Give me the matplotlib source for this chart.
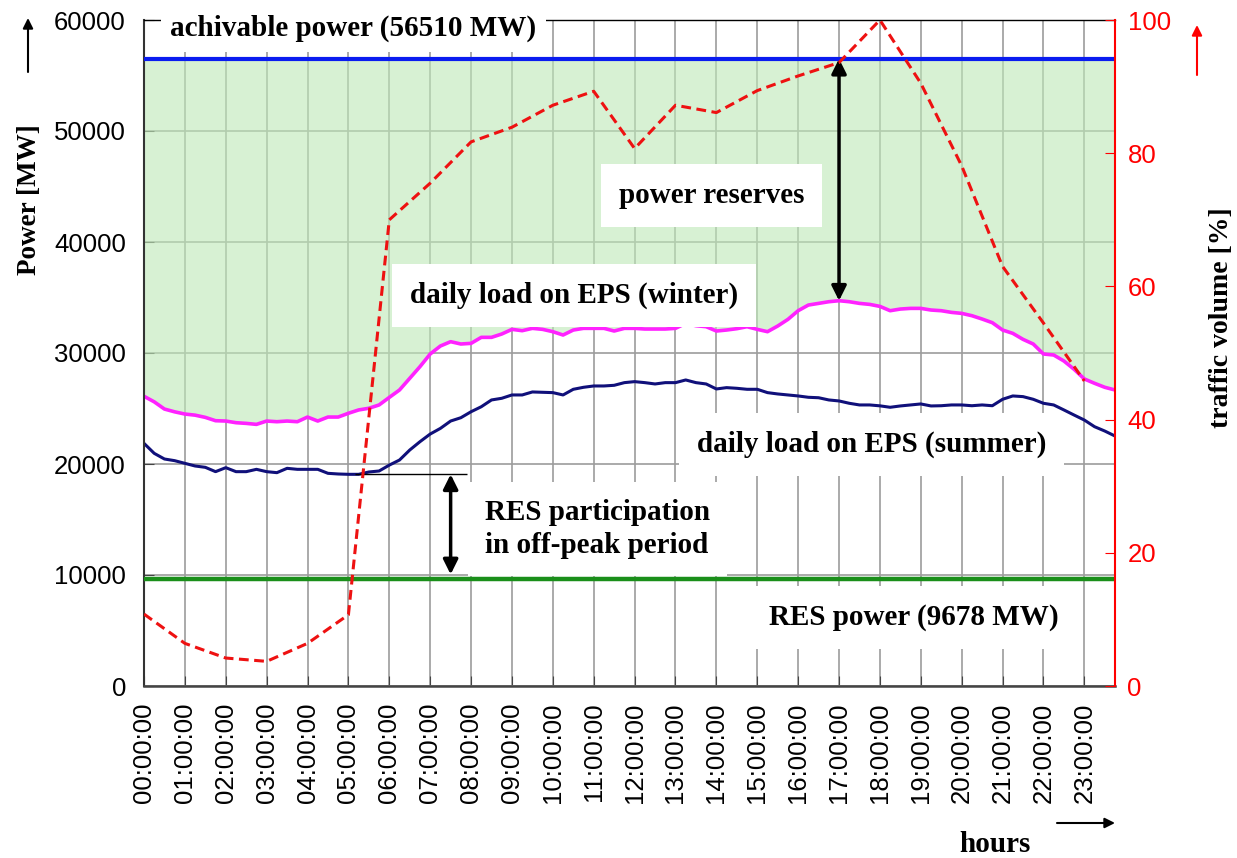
import numpy as np
import matplotlib.pyplot as plt
from matplotlib.patches import FancyArrowPatch

# load curves, 15 min steps (MW)
winter = [26100, 25600, 24950, 24700, 24500, 24400, 24200, 23900,
          23870, 23720, 23660, 23570, 23870, 23810, 23870, 23810,
          24230, 23870, 24230, 24230, 24570, 24870, 25020, 25320,
          26000, 26670, 27720, 28770, 29910, 30630, 31020, 30810,
          30870, 31410, 31410, 31710, 32130, 32010, 32220, 32130,
          31920, 31620, 32070, 32220, 32220, 32220, 31980, 32220,
          32220, 32160, 32160, 32160, 32220, 32670, 32460, 32370,
          31980, 32070, 32190, 32370, 32130, 31920, 32430, 33030,
          33810, 34320, 34470, 34620, 34710, 34620, 34470, 34380,
          34200, 33810, 33960, 34020, 34020, 33870, 33810, 33660,
          33570, 33360, 33060, 32730, 32070, 31770, 31230, 30810,
          29910, 29820, 29280, 28530, 27660, 27270, 26910, 26670]
summer = [21860, 20960, 20450, 20300, 20060, 19820, 19700, 19310,
          19670, 19310, 19310, 19520, 19310, 19220, 19610, 19520,
          19520, 19520, 19160, 19100, 19070, 19070, 19280, 19370,
          19900, 20360, 21260, 22010, 22700, 23210, 23870, 24170,
          24710, 25160, 25770, 25920, 26220, 26220, 26490, 26460,
          26430, 26220, 26730, 26910, 27030, 27030, 27090, 27330,
          27420, 27330, 27210, 27330, 27330, 27570, 27330, 27210,
          26760, 26880, 26820, 26730, 26730, 26430, 26310, 26220,
          26130, 26010, 25970, 25770, 25680, 25470, 25320, 25320,
          25240, 25110, 25230, 25320, 25410, 25230, 25250, 25320,
          25320, 25250, 25320, 25250, 25830, 26130, 26070, 25830,
          25470, 25320, 24870, 24410, 23960, 23360, 22970, 22520]
t = np.arange(len(winter)) / 4.0

# traffic volume, hourly (%)
traffic_hours = np.arange(24)
traffic = [10.8, 6.4, 4.2, 3.7, 6.4, 10.7, 70.0, 75.5, 81.7, 83.9, 87.2, 89.3,
           80.7, 87.2, 86.1, 89.4, 91.6, 93.6, 100.0, 90.5, 78.1, 63.0, 54.5, 45.8]

achievable = 56510
res_power = 9678
hour_labels = ['%02d:00:00' % h for h in range(24)]

SANS = 'Liberation Sans'
SERIF = 'Liberation Serif'
W, H = 1237, 858

fig = plt.figure(figsize=(W / 100, H / 100), dpi=100)
ax = fig.add_axes([144 / W, 1 - 686 / H, (1115 - 144) / W, (686 - 20) / H])

ax.set_axisbelow(True)
ax.grid(True, color='#9c9c9c', lw=1.2)
# green reserve area over the grid so the grid shows through greenish
ax.fill_between(t, winter, achievable, color='#bfe9b8', alpha=0.62, lw=0, zorder=1)

ax.plot(t, winter, color='#ff22ff', lw=2.6, zorder=2)
ax.plot(t, summer, color='#10107a', lw=2.2, zorder=2)
ax.axhline(achievable, color='#0a1cf0', lw=3, zorder=4)
ax.axhline(res_power, color='#1a8f1a', lw=3.2, zorder=4)

ax.set_xlim(0, 23.75)
ax.set_ylim(0, 60000)
ax.set_xticks(range(24))
ax.set_xticklabels(hour_labels, rotation=90, fontsize=18.5, family=SANS)
ax.set_yticks(range(0, 60001, 10000))
ax.set_yticklabels([str(v) for v in range(0, 60001, 10000)], fontsize=18.5, family=SANS)
ax.tick_params(axis='x', direction='in', length=7, color='#444444', pad=12)
ax.tick_params(axis='y', direction='in', length=7, color='#444444', pad=13)
ax.spines['right'].set_visible(False)
ax.spines['left'].set_color('#333333')
ax.spines['left'].set_linewidth(1.5)
ax.spines['bottom'].set_color('#444444')
ax.spines['bottom'].set_linewidth(1.8)
ax.spines['top'].set_linewidth(1)

ax2 = ax.twinx()
ax2.plot(traffic_hours, traffic, color='#ee1111', lw=2.2, dashes=(3.2, 1.8))
ax2.set_ylim(0, 100)
ax2.set_yticks(range(0, 101, 20))
ax2.set_yticklabels([str(v) for v in range(0, 101, 20)], fontsize=18.5, family=SANS)
ax2.tick_params(axis='y', direction='in', length=7, colors='red', pad=9)
for s in ['top', 'left', 'bottom']:
    ax2.spines[s].set_visible(False)
ax2.spines['right'].set_color('red')
ax2.spines['right'].set_linewidth(1.5)

lab = dict(fontsize=21, fontweight='bold', family=SERIF, zorder=3)
ax.text(0.64, 58560, 'achivable power (56510 MW)', ha='left', va='baseline',
        bbox=dict(facecolor='white', edgecolor='none', pad=7), **lab)
ax.text(11.61, 43510, 'power reserves', ha='left', va='baseline',
        bbox=dict(facecolor='white', edgecolor='none', pad=13), **lab)
ax.text(6.5, 34500, 'daily load on EPS (winter)', ha='left', va='baseline',
        bbox=dict(facecolor='white', edgecolor='none', pad=13), **lab)
ax.text(13.52, 21080, 'daily load on EPS (summer)', ha='left', va='baseline',
        bbox=dict(facecolor='white', edgecolor='none', pad=13), **lab)
ax.text(8.34, 16850, 'RES participation\nin off-peak period', ha='left', va='top',
        linespacing=1.3, bbox=dict(facecolor='white', edgecolor='none', pad=12), **lab)
ax.text(15.28, 5500, 'RES power (9678 MW)', ha='left', va='baseline',
        bbox=dict(facecolor='white', edgecolor='none', pad=13), **lab)

# double arrows
ax.annotate('', xy=(17, achievable), xytext=(17, max(winter)), zorder=5,
            arrowprops=dict(arrowstyle='<|-|>', color='black', lw=2.5,
                            shrinkA=0, shrinkB=0, mutation_scale=22))
ax.annotate('', xy=(7.5, min(summer)), xytext=(7.5, res_power), zorder=5,
            arrowprops=dict(arrowstyle='<|-|>', color='black', lw=2.5,
                            shrinkA=3, shrinkB=0, mutation_scale=22))
ax.hlines(min(summer), 5.15, 7.9, color='black', lw=1, zorder=5)

# axis titles with arrows
fig.text(30 / W, 1 - 200 / H, 'Power [MW]', rotation=90, ha='center', va='center',
         fontsize=19.5, fontweight='bold', family=SERIF)
fig.text(1222 / W, 1 - 318 / H, 'traffic volume [%]', rotation=90, ha='center', va='center',
         fontsize=20, fontweight='bold', family=SERIF)
fig.text(995 / W, 1 - 845 / H, 'hours', ha='center', va='center',
         fontsize=21, fontweight='bold', family=SERIF)
arr = dict(arrowstyle='-|>', lw=1.5, shrinkA=0, shrinkB=0, mutation_scale=15)
fig.add_artist(FancyArrowPatch((28 / W, 1 - 72 / H), (28 / W, 1 - 18 / H),
                               transform=fig.transFigure, color='black', **arr))
fig.add_artist(FancyArrowPatch((1197 / W, 1 - 75 / H), (1197 / W, 1 - 25 / H),
                               transform=fig.transFigure, color='red', **arr))
fig.add_artist(FancyArrowPatch((1057 / W, 1 - 823 / H), (1115 / W, 1 - 823 / H),
                               transform=fig.transFigure, color='black', **arr))

fig.savefig('out.png', dpi=100)
